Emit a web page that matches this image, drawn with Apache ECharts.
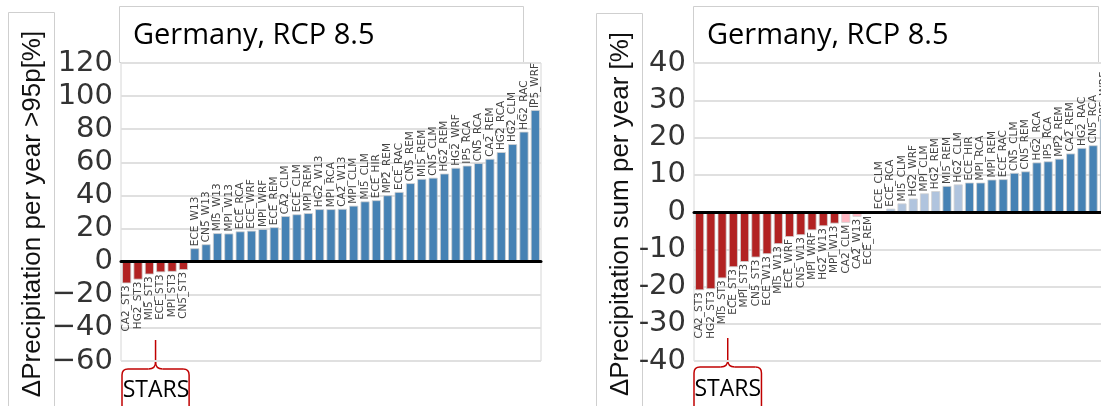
<!DOCTYPE html>
<html>
<head>
<meta charset="utf-8">
<script src="https://cdn.jsdelivr.net/npm/echarts@6/dist/echarts.min.js"></script>
<style>
  html, body { margin: 0; padding: 0; background: #fff; overflow: hidden; }
  #chart { width: 1115px; height: 406px; }
</style>
</head>
<body>
<div id="chart"></div>
<script>
// left panel: change of precipitation >95th percentile per year [%]
const models95 = [
  "CA2_ST3", "HG2_ST3", "MI5_ST3", "ECE_ST3", "MPI_ST3", "CN5_ST3",
  "ECE_W13", "CN5_W13", "MI5_W13", "MPI_W13", "ECE_RCA", "ECE_WRF",
  "MPI_WRF", "ECE_REM", "CA2_CLM", "ECE_CLM", "MPI_REM", "HG2_W13",
  "MPI_RCA", "CA2_W13", "MPI_CLM", "MI5_CLM", "ECE_HIR", "MP2_REM",
  "ECE_RAC", "CN5_REM", "MI5_REM", "CN5_CLM", "HG2_REM", "HG2_WRF",
  "IP5_RCA", "CN5_RCA", "CA2_REM", "HG2_RCA", "HG2_CLM", "HG2_RAC",
  "IP5_WRF"
];
const values95 = [
  -13.1, -10.8, -7.7, -6.4, -6.1, -5.0,
  8.1, 10.5, 17.2, 17.0, 18.3, 18.7,
  19.7, 20.8, 27.5, 28.6, 29.3, 31.7,
  31.7, 31.9, 33.8, 36.4, 37.1, 40.1,
  42.1, 47.4, 50.0, 50.7, 53.2, 56.7,
  58.0, 59.5, 62.1, 66.2, 71.0, 78.5,
  91.6
];
const significant95 = [
  1, 1, 1, 1, 1, 1, 1, 1, 1, 1, 1, 1, 1, 1, 1, 1, 1, 1, 1,
  1, 1, 1, 1, 1, 1, 1, 1, 1, 1, 1, 1, 1, 1, 1, 1, 1, 1
];

// right panel: change of precipitation sum per year [%]
const modelsSum = [
  "CA2_ST3", "HG2_ST3", "MI5_ST3", "ECE_ST3", "MPI_ST3", "CN5_ST3",
  "ECE_W13", "MI5_W13", "ECE_WRF", "CN5_W13", "MPI_WRF", "HG2_W13",
  "MPI_W13", "CA2_CLM", "CA2_W13", "ECE_REM", "ECE_CLM", "ECE_RCA",
  "MI5_CLM", "HG2_WRF", "MPI_CLM", "HG2_REM", "MI5_REM", "HG2_CLM",
  "ECE_HIR", "MPI_RCA", "MPI_REM", "ECE_RAC", "CN5_CLM", "CN5_REM",
  "HG2_RCA", "IP5_RCA", "MP2_REM", "CA2_REM", "HG2_RAC", "CN5_RCA",
  "IP5_WRF"
];
const valuesSum = [
  -21.0, -20.7, -17.8, -14.8, -13.4, -12.2,
  -11.3, -8.6, -6.7, -6.2, -4.9, -3.8,
  -3.1, -2.9, -1.3, -0.5, 0.2, 0.9,
  2.3, 3.6, 5.0, 5.6, 7.0, 7.4,
  7.9, 7.9, 8.7, 8.8, 10.5, 10.9,
  13.3, 13.6, 14.3, 15.7, 17.2, 17.9,
  25.0
];
const significantSum = [
  1, 1, 1, 1, 1, 1, 1, 1, 1, 1, 1, 1, 1, 0, 0, 0, 0, 0, 0,
  0, 0, 0, 1, 0, 1, 1, 1, 1, 1, 1, 1, 1, 1, 1, 1, 1, 1
];

const yTicks95 = { min: -60, max: 120, interval: 20 };
const yTicksSum = { min: -40, max: 40, interval: 10 };
const titleText = "Germany, RCP 8.5";
const yName95 = "\u0394Precipitation per year >95p[%]";
const yNameSum = "\u0394Precipitation sum per year [%]";
const bracketText = "STARS";
const nStars = 6;

// layout (px)
const plotTop = 63, plotH = 298;
const left95 = 121, width95 = 420;
const leftSum = 694, widthSum = 416;

function barColor(v, sig) {
  if (v < 0) return sig ? "#b22222" : "#ffb6c1";
  return sig ? "#4682b4" : "#b0c4de";
}

function barData(values, sig) {
  return values.map((v, i) => ({
    value: v,
    itemStyle: { color: barColor(v, sig[i]) },
    label: v < 0
      ? { position: "bottom", align: "right" }
      : { position: "top", align: "left" }
  }));
}

// curly bracket under the first categories, made of lines and quadratic curves
function bracket(x0, x1, yTop) {
  const cx = (x0 + x1) / 2;
  const yh = yTop + 29;
  const st = { stroke: "#c00000", lineWidth: 1.5, fill: "none" };
  const ln = (a, b, c, d) => ({ type: "line", shape: { x1: a, y1: b, x2: c, y2: d }, style: st });
  const qc = (a, b, c, d, px, py) => ({
    type: "bezierCurve",
    shape: { x1: a, y1: b, x2: c, y2: d, cpx1: px, cpy1: py },
    style: st
  });
  return [
    ln(cx, yTop, cx, yh - 7),
    qc(cx, yh - 7, cx - 7, yh, cx, yh),
    qc(cx, yh - 7, cx + 7, yh, cx, yh),
    ln(cx - 7, yh, x0 + 6, yh),
    ln(cx + 7, yh, x1 - 6, yh),
    qc(x0 + 6, yh, x0, yh + 6, x0, yh),
    qc(x1 - 6, yh, x1, yh + 6, x1, yh),
    ln(x0, yh + 6, x0, 410),
    ln(x1, yh + 6, x1, 410)
  ];
}

const barLabel = {
  show: true,
  formatter: "{b}",
  rotate: 90,
  verticalAlign: "middle",
  distance: 2,
  fontFamily: "DejaVu Sans",
  fontSize: 10.5,
  color: "#444"
};

const xAxisBase = {
  type: "category",
  axisLine: { onZero: true, lineStyle: { color: "#000", width: 3 } },
  axisTick: { show: false },
  axisLabel: { show: false },
  z: 5
};

const yAxisBase = {
  type: "value",
  axisLine: { show: false },
  axisTick: { show: false },
  splitLine: { lineStyle: { color: "#e0e0e0", width: 2 } },
  axisLabel: {
    fontFamily: "DejaVu Sans",
    fontSize: 29,
    color: "#333",
    margin: 8
  }
};

const gridBase = { show: true, borderColor: "#d6d6d6", borderWidth: 1, backgroundColor: "#fff" };

const chart = echarts.init(document.getElementById("chart"));

const band95 = width95 / models95.length;
const bandSum = widthSum / modelsSum.length;

chart.setOption({
  animation: false,
  backgroundColor: "#fff",
  grid: [
    Object.assign({ left: left95, top: plotTop, width: width95, height: plotH }, gridBase),
    Object.assign({ left: leftSum, top: plotTop, width: widthSum, height: plotH }, gridBase)
  ],
  xAxis: [
    Object.assign({ gridIndex: 0, data: models95 }, xAxisBase),
    Object.assign({ gridIndex: 1, data: modelsSum }, xAxisBase)
  ],
  yAxis: [
    Object.assign({}, yAxisBase, {
      gridIndex: 0,
      min: yTicks95.min, max: yTicks95.max, interval: yTicks95.interval,
      axisLabel: Object.assign({}, yAxisBase.axisLabel, {
        formatter: (v) => String(v).replace("-", "\u2212")
      })
    }),
    Object.assign({}, yAxisBase, {
      gridIndex: 1,
      min: yTicksSum.min, max: yTicksSum.max, interval: yTicksSum.interval
    })
  ],
  series: [
    {
      type: "bar",
      xAxisIndex: 0, yAxisIndex: 0,
      data: barData(values95, significant95),
      barCategoryGap: "20%",
      itemStyle: { borderColor: "#d0d0d0", borderWidth: 0.8 },
      label: barLabel
    },
    {
      type: "bar",
      xAxisIndex: 1, yAxisIndex: 1,
      data: barData(valuesSum, significantSum),
      barCategoryGap: "20%",
      itemStyle: { borderColor: "#d0d0d0", borderWidth: 0.8 },
      label: barLabel
    }
  ],
  graphic: [
    // y-axis name boxes
    { type: "rect", shape: { x: 8.5, y: 12.5, width: 46, height: 410 },
      style: { fill: "none", stroke: "#cfcfcf", lineWidth: 1 } },
    { type: "rect", shape: { x: 596.5, y: 13.5, width: 46, height: 410 },
      style: { fill: "none", stroke: "#cfcfcf", lineWidth: 1 } },
    { type: "text", x: 33, y: 214, rotation: Math.PI / 2,
      style: { text: yName95, font: "26px 'Liberation Sans'", fill: "#111", align: "center", verticalAlign: "middle" } },
    { type: "text", x: 621, y: 214, rotation: Math.PI / 2,
      style: { text: yNameSum, font: "26px 'Liberation Sans'", fill: "#111", align: "center", verticalAlign: "middle" } },
    // title boxes
    { type: "rect", shape: { x: 119.5, y: 6.5, width: 404, height: 56 },
      style: { fill: "#fff", stroke: "#cfcfcf", lineWidth: 1 } },
    { type: "rect", shape: { x: 693.5, y: 6.5, width: 405, height: 56 },
      style: { fill: "#fff", stroke: "#cfcfcf", lineWidth: 1 } },
    { type: "text", x: 133, y: 36,
      style: { text: titleText, font: "29px 'Open Sans'", fill: "#000", verticalAlign: "middle" } },
    { type: "text", x: 707, y: 36,
      style: { text: titleText, font: "29px 'Open Sans'", fill: "#000", verticalAlign: "middle" } },
    // STARS brackets
    ...bracket(left95 + 1, left95 + nStars * band95, 340),
    ...bracket(leftSum, leftSum + nStars * bandSum, 338),
    { type: "text", x: left95 + nStars * band95 / 2 + 1, y: 390,
      style: { text: bracketText, font: "23px 'Open Sans'", fill: "#000", align: "center", verticalAlign: "middle" } },
    { type: "text", x: leftSum + nStars * bandSum / 2, y: 389,
      style: { text: bracketText, font: "23px 'Open Sans'", fill: "#000", align: "center", verticalAlign: "middle" } }
  ]
});
</script>
</body>
</html>
